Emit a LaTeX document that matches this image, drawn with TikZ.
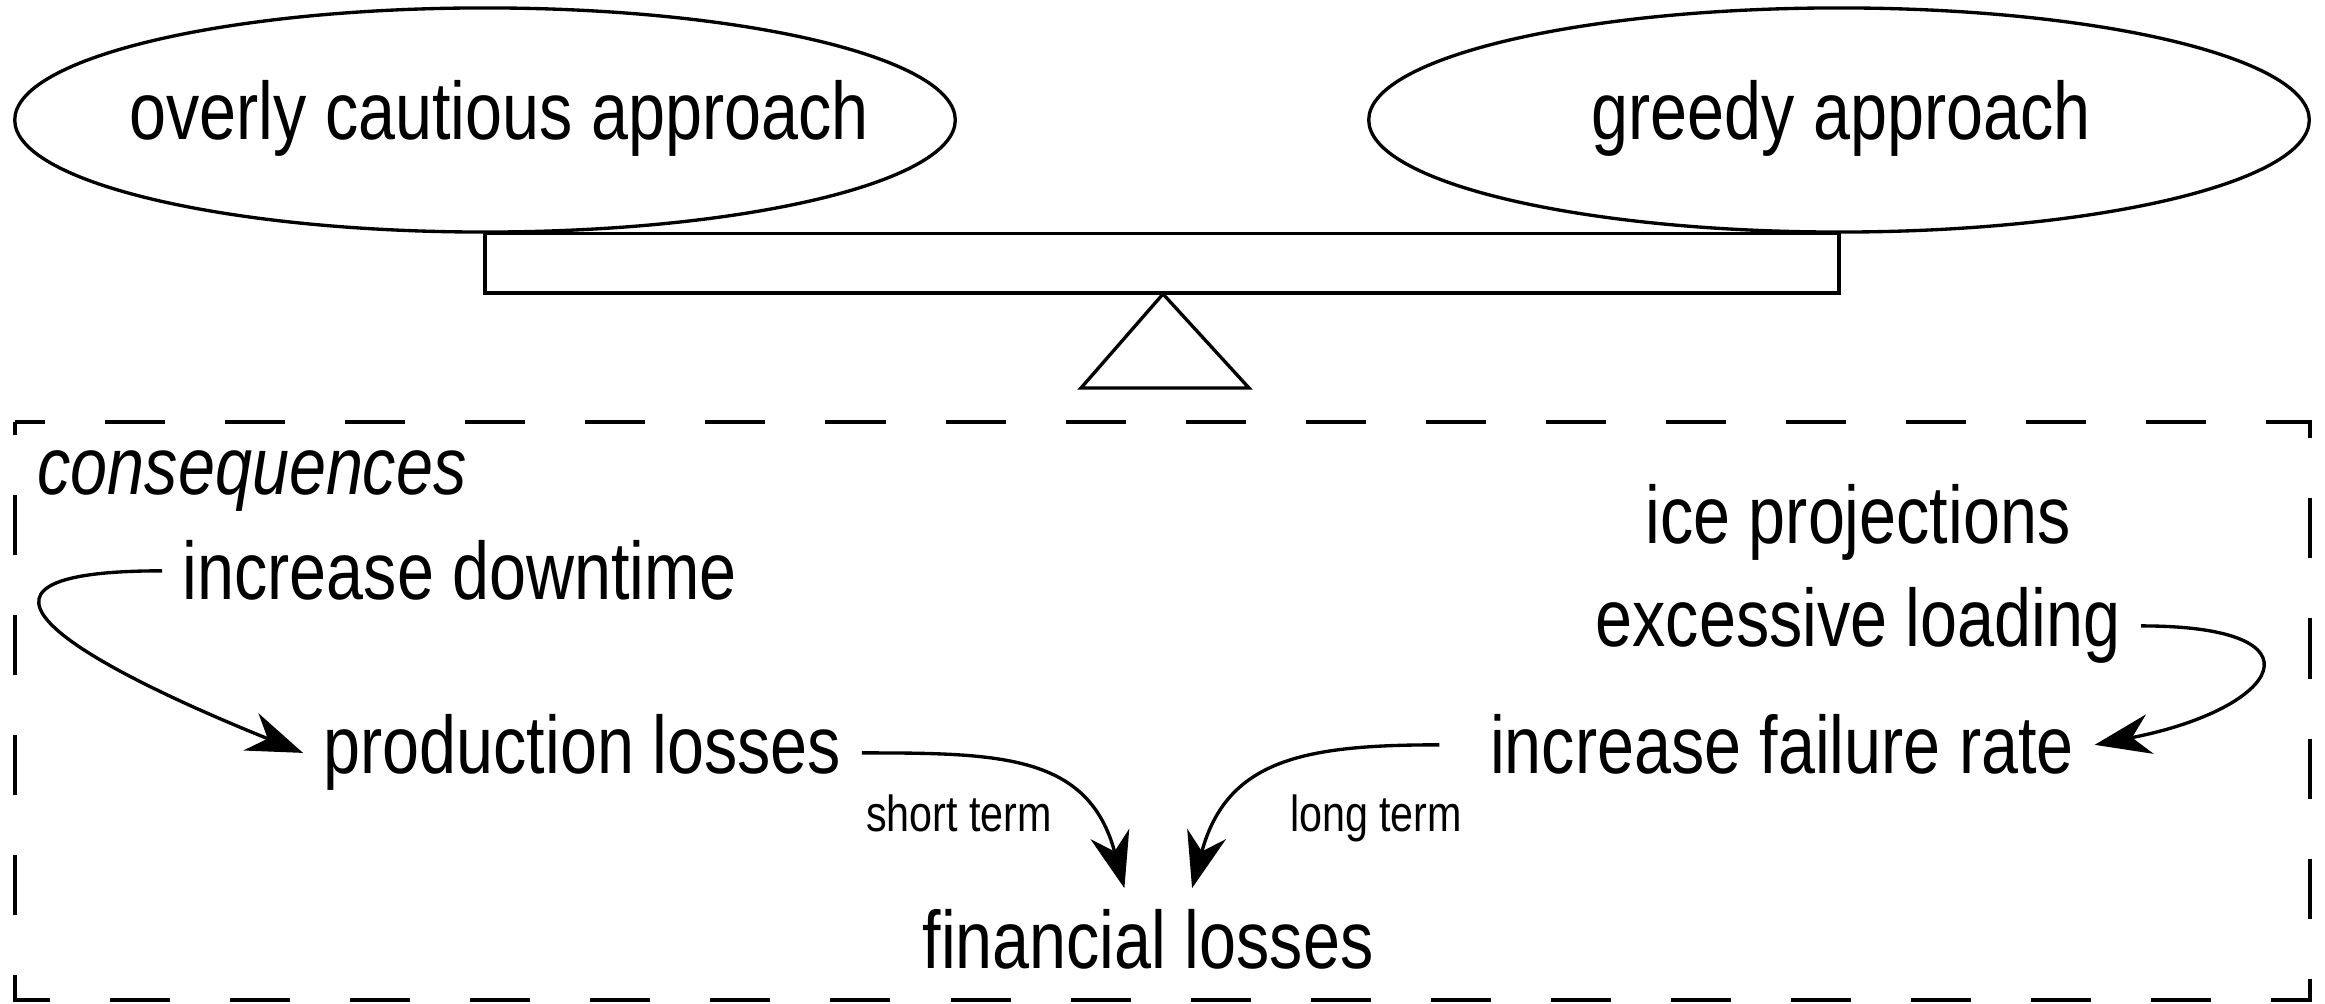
\documentclass[tikz,border=0pt]{standalone}
\usepackage{fontspec}
\setmainfont{Liberation Sans}[FakeStretch=0.815]
\usetikzlibrary{shapes.geometric}
\usetikzlibrary{arrows.meta}
\tikzset{>={Stealth[length=0.56cm,width=0.4cm,inset=0.18cm]}}
\tikzset{
  approach/.style={draw, ellipse, line width=0.95pt, minimum width=9.4cm, minimum height=2.24cm, inner sep=0pt},
  bigtext/.style={inner sep=0pt, font=\fontsize{23.2pt}{27pt}\selectfont},
  effect/.style={inner sep=0.2cm, font=\fontsize{23.2pt}{27pt}\selectfont},
  term/.style={inner sep=0pt, font=\fontsize{14.4pt}{17pt}\selectfont},
  flow/.style={->, line width=0.95pt},
  frame/.style={line width=1.2pt, dash pattern=on 0.6cm off 0.6cm, dash phase=0.3cm},
}

\begin{document}
\begin{tikzpicture}[x=0.01cm, y=0.01cm]
                \useasboundingbox (0,0) rectangle (2325,-1004);

                % the two sides of the scale
                \node[approach] (cautious) at (485,-120) {};
                \node[bigtext] (cautioustxt) at (499,-118) {overly cautious approach};
                \node[approach] (greedy) at (1839,-120) {};
                \node[bigtext] (greedytxt) at (1841,-118) {greedy approach};

                % beam and pivot
                \draw[line width=0.95pt] (cautious.south) rectangle (greedy.south |- 0,-293);
                \draw[line width=0.95pt] (1163,-294) -- (1081,-388) -- (1249,-388) -- cycle;

                % consequences box
                \draw[frame] (15,-422) -- (2310,-422) -- (2310,-1000) -- (15,-1000) -- cycle;
                \node[effect, anchor=base west, inner sep=0pt] (conseq) at (37,-495) {\itshape consequences};

                % left side
                \node[effect, anchor=base west] (downtime) at (162,-600) {increase downtime};
                \node[effect, anchor=base west] (prodloss) at (303,-774) {production losses};

                % right side
                \node[effect, anchor=base] (ice) at (1858,-544) {ice projections};
                \node[effect, anchor=base] (loading) at (1858,-647) {excessive loading};
                \node[effect, anchor=base] (failure) at (1782,-774) {increase failure rate};

                % bottom
                \node[effect, anchor=base] (finloss) at (1148,-968) {financial losses};
                \node[term, anchor=base] (shortterm) at (959,-831) {short term};
                \node[term, anchor=base] (longterm) at (1376,-831) {long term};

                % downtime to production losses
                \draw[flow] (downtime.west) to[out=180, in=158, looseness=2.7] (prodloss.west);
                % loading to failure rate
                \draw[flow] (loading.east) to[out=0, in=11, looseness=3.8] (failure.east);
                % production losses to financial losses
                \draw[flow] (prodloss.east) to[out=0, in=105, looseness=1.2] (finloss.115);
                % failure rate to financial losses
                \draw[flow] ([xshift=-0.3cm]failure.west) to[out=180, in=75, looseness=1.2] (finloss.49);
            \end{tikzpicture}
\end{document}
